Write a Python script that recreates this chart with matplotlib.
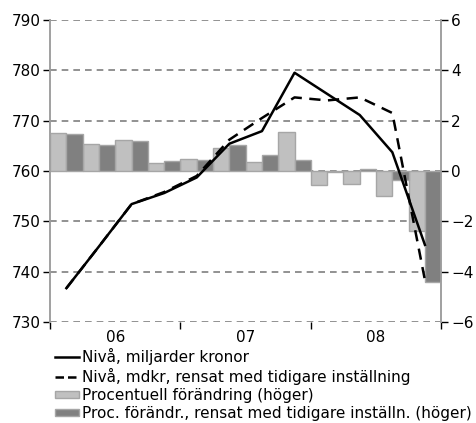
import matplotlib
matplotlib.use("Agg")
import matplotlib.pyplot as plt
from matplotlib.lines import Line2D
from matplotlib.patches import Patch
import numpy as np

quarters = ["06Q1", "06Q2", "06Q3", "06Q4", "07Q1", "07Q2", "07Q3", "07Q4",
            "08Q1", "08Q2", "08Q3", "08Q4"]
year_labels = ["06", "07", "08"]
level = [736.7, 745.0, 753.4, 755.6, 758.7, 765.4, 767.9, 779.5, 775.3, 771.1, 763.7, 745.3]
level_adj = [736.7, 745.0, 753.4, 755.8, 759.0, 766.2, 770.5, 774.6, 774.0, 774.6, 771.5, 738.3]
pct = [1.50, 1.07, 1.24, 0.31, 0.46, 0.90, 0.35, 1.56, -0.56, -0.52, -0.98, -2.38]
pct_adj = [1.47, 1.03, 1.19, 0.40, 0.45, 1.03, 0.62, 0.45, -0.05, 0.08, -0.38, -4.40]

labels = ["Nivå, miljarder kronor",
          "Nivå, mdkr, rensat med tidigare inställning",
          "Procentuell förändring (höger)",
          "Proc. förändr., rensat med tidigare inställn. (höger)"]

plt.rcParams['font.family'] = ['DejaVu Sans']
fig = plt.figure(figsize=(4.77, 4.23), dpi=100)
ax = fig.add_axes([0.105, 0.239, 0.82, 0.714])
ax2 = ax.twinx()

n = len(quarters)
x = np.arange(n)
light = "#c0c0c0"
dark = "#808080"
edge = "#a6a6a6"

ax2.bar(x + 0.25, pct, width=0.5, color=light, edgecolor=edge, linewidth=1.0, zorder=2)
ax2.bar(x + 0.75, pct_adj, width=0.5, color=dark, edgecolor=edge, linewidth=1.0, zorder=2)
ax2.set_ylim(-6, 6)
ax2.set_yticks(np.arange(-6, 7, 2))

for v in np.arange(-6, 7, 2):
    ax2.axhline(v, color="#7f7f7f", lw=1.2, ls=(0, (4, 3)), zorder=1)

ax2.plot(x + 0.5, [(v - 760) / 5 for v in level_adj], color="black", lw=1.8,
         ls=(0, (4.5, 3)), zorder=3)
ax2.plot(x + 0.5, [(v - 760) / 5 for v in level], color="black", lw=1.8, zorder=4)

ax.set_ylim(730, 790)
ax.set_yticks(np.arange(730, 791, 10))
ax.set_xlim(0, n)
ax.set_xticks([0, 4, 8, 12])
ax.set_xticklabels([])
ax.set_xticks([2, 6, 10], minor=True)
ax.set_xticklabels(year_labels, minor=True)
ax.tick_params(axis="x", which="minor", length=0, pad=6, labelsize=11)
ax.tick_params(axis="x", which="major", length=5, width=1, color="black", direction="out")
ax.tick_params(axis="y", length=5, width=1, color="black", labelsize=11, pad=2)
ax2.tick_params(axis="y", length=5, width=1, color="black", labelsize=11, pad=2)

for a in (ax, ax2):
    a.spines["top"].set_visible(False)
    a.spines["bottom"].set_visible(False)
    a.spines["left"].set_color("#a0a0a0")
    a.spines["right"].set_color("#a0a0a0")
    a.spines["left"].set_linewidth(1.2)
    a.spines["right"].set_linewidth(1.2)

handles = [Line2D([], [], color="black", lw=1.8),
           Line2D([], [], color="black", lw=1.8, ls=(0, (3.4, 1.6))),
           Patch(facecolor=light, edgecolor=edge),
           Patch(facecolor=dark, edgecolor=edge)]
fig.legend(handles, labels, loc="upper left", bbox_to_anchor=(0.115, 0.178),
           frameon=False, fontsize=11, handlelength=1.55, handleheight=0.4,
           handletextpad=0.2, labelspacing=0.2, borderaxespad=0, borderpad=0)

fig.savefig("out.png", dpi=100)
